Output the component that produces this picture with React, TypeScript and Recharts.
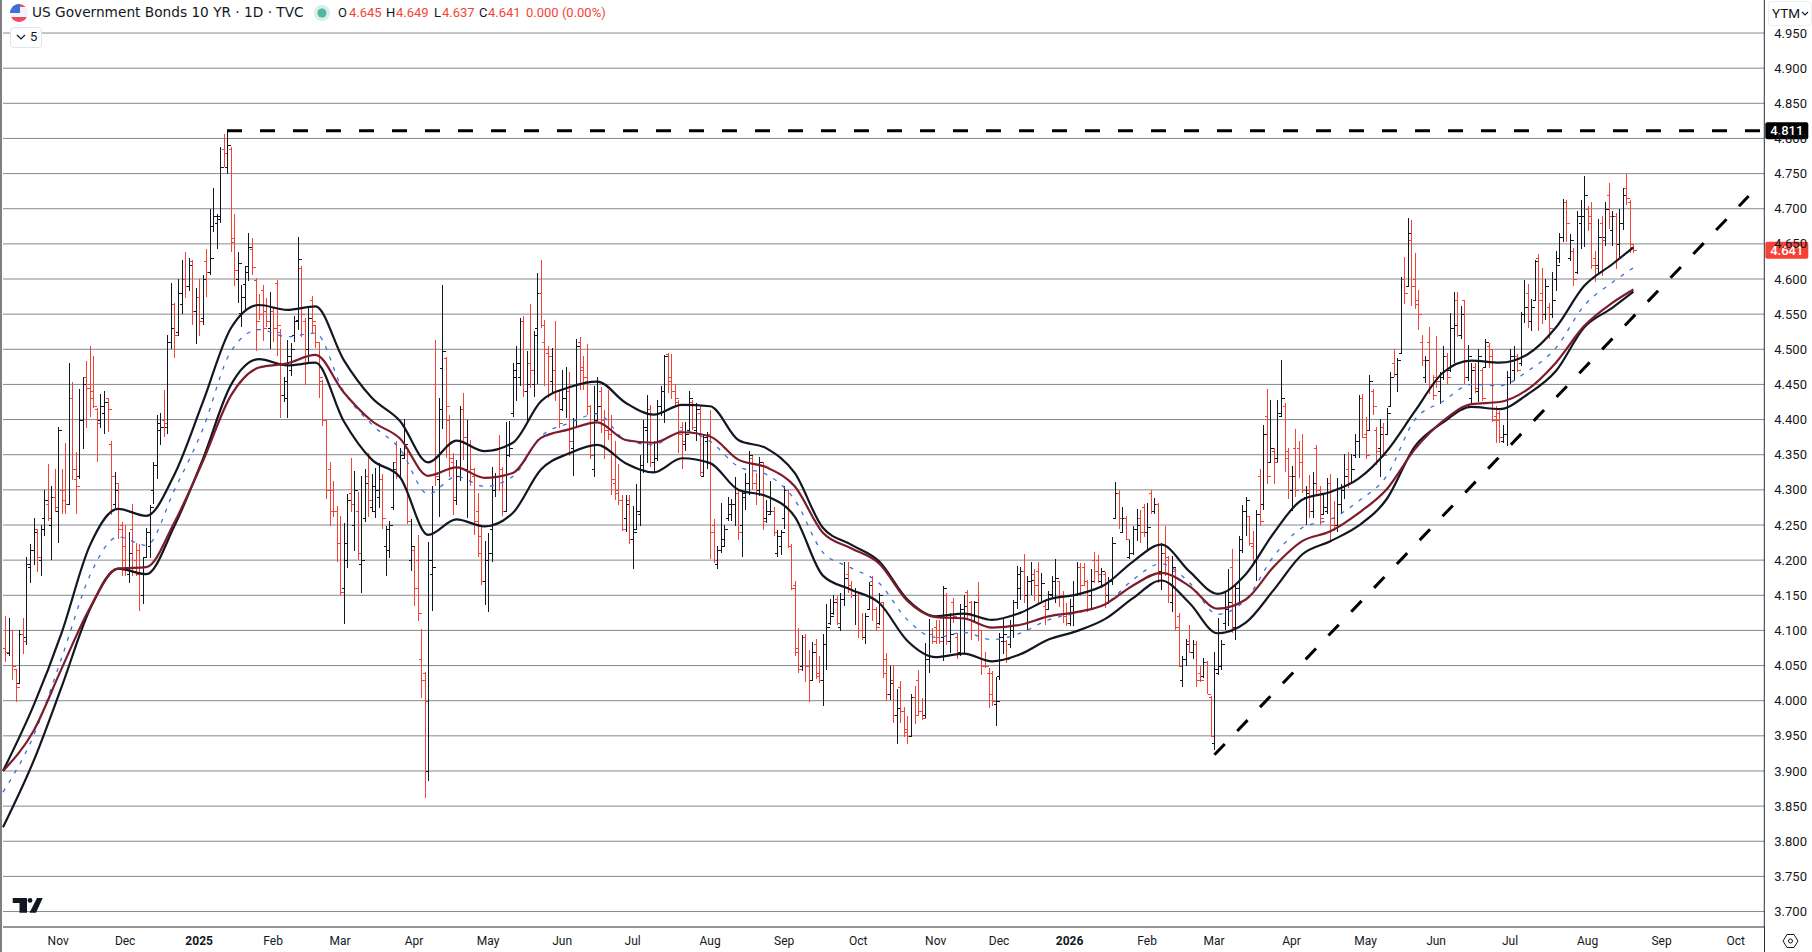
import { Bar, CartesianGrid, ComposedChart, Line, ReferenceLine, XAxis, YAxis } from 'recharts'

// daily OHLC, one bar per session, oldest first
const opens = [
  4.075,4.068,4.10,4.045,4.025,4.095,4.09,4.19,4.215,4.245,
  4.20,4.26,4.28,4.25,4.29,4.27,4.30,4.30,4.28,4.43,
  4.315,4.32,4.40,4.46,4.45,4.44,4.415,4.40,4.41,4.43,
  4.365,4.28,4.31,4.25,4.22,4.18,4.245,4.20,4.215,4.15,
  4.205,4.22,4.30,4.335,4.385,4.40,4.39,4.51,4.565,4.525,
  4.565,4.60,4.59,4.625,4.555,4.575,4.545,4.625,4.61,4.675,
  4.68,4.69,4.785,4.76,4.785,4.659,4.60,4.551,4.593,4.618,
  4.643,4.598,4.565,4.585,4.555,4.53,4.555,4.595,4.525,4.435,
  4.43,4.47,4.52,4.542,4.615,4.54,4.50,4.57,4.535,4.51,
  4.455,4.40,4.33,4.30,4.27,4.225,4.16,4.20,4.295,4.25,
  4.27,4.195,4.26,4.32,4.275,4.27,4.29,4.315,4.22,4.215,
  4.275,4.34,4.32,4.345,4.36,4.20,4.215,4.20,4.06,4.04,
  3.90,4.18,4.45,4.315,4.474,4.487,4.40,4.34,4.285,4.32,
  4.415,4.33,4.365,4.32,4.27,4.235,4.17,4.20,4.245,4.30,
  4.36,4.33,4.27,4.35,4.41,4.47,4.46,4.54,4.44,4.48,
  4.45,4.53,4.58,4.51,4.495,4.455,4.47,4.44,4.415,4.43,
  4.44,4.36,4.39,4.51,4.475,4.455,4.42,4.33,4.41,4.44,
  4.40,4.39,4.38,4.31,4.30,4.285,4.26,4.285,4.23,4.245,
  4.265,4.335,4.385,4.415,4.34,4.345,4.41,4.44,4.493,4.46,
  4.44,4.425,4.39,4.365,4.385,4.425,4.385,4.41,4.32,4.37,
  4.38,4.25,4.195,4.215,4.22,4.26,4.265,4.28,4.295,4.25,
  4.29,4.31,4.345,4.31,4.30,4.335,4.26,4.265,4.27,4.21,
  4.22,4.26,4.30,4.22,4.165,4.075,4.05,4.09,4.05,4.03,
  4.08,4.04,4.03,4.08,4.11,4.125,4.145,4.105,4.145,4.18,
  4.165,4.15,4.15,4.10,4.09,4.13,4.17,4.13,4.11,4.14,
  4.06,4.01,4.03,3.98,4.02,3.985,3.96,3.95,4.005,4.03,
  3.985,3.98,4.06,4.095,4.105,4.10,4.09,4.15,4.085,4.14,
  4.09,4.07,4.125,4.155,4.14,4.115,4.15,4.10,4.06,4.04,
  4.04,3.995,4.035,4.085,4.085,4.08,4.10,4.14,4.16,4.185,
  4.15,4.17,4.18,4.185,4.15,4.135,4.13,4.15,4.17,4.17,
  4.15,4.12,4.11,4.135,4.15,4.19,4.19,4.17,4.15,4.20,
  4.20,4.17,4.18,4.15,4.17,4.26,4.295,4.24,4.26,4.205,
  4.21,4.245,4.26,4.275,4.24,4.295,4.27,4.28,4.185,4.21,
  4.205,4.14,4.185,4.12,4.03,4.06,4.085,4.07,4.08,4.04,
  4.035,4.055,4.005,3.94,4.04,4.05,4.11,4.13,4.19,4.105,
  4.16,4.215,4.27,4.263,4.22,4.20,4.32,4.28,4.405,4.34,
  4.355,4.345,4.405,4.42,4.355,4.30,4.36,4.36,4.34,4.29,
  4.30,4.27,4.36,4.30,4.265,4.27,4.31,4.26,4.25,4.28,
  4.30,4.33,4.31,4.35,4.37,4.43,4.38,4.385,4.44,4.385,
  4.36,4.39,4.38,4.42,4.48,4.465,4.495,4.60,4.59,4.655,
  4.60,4.57,4.51,4.46,4.51,4.45,4.46,4.44,4.46,4.49,
  4.47,4.53,4.57,4.52,4.57,4.46,4.43,4.475,4.44,4.47,
  4.475,4.505,4.50,4.405,4.41,4.37,4.38,4.46,4.47,4.49,
  4.48,4.55,4.58,4.54,4.57,4.63,4.58,4.55,4.56,4.55,
  4.60,4.63,4.66,4.71,4.63,4.64,4.61,4.68,4.69,4.70,
  4.69,4.63,4.62,4.68,4.66,4.72,4.67,4.69,4.65,4.68,
  4.73,4.71,4.645,
]
const highs = [
  4.12,4.118,4.10,4.045,4.10,4.118,4.204,4.223,4.26,4.245,
  4.25,4.30,4.337,4.305,4.33,4.39,4.33,4.366,4.48,4.453,
  4.354,4.444,4.46,4.483,4.504,4.49,4.416,4.437,4.44,4.43,
  4.37,4.325,4.31,4.254,4.25,4.24,4.28,4.224,4.223,4.205,
  4.246,4.278,4.34,4.407,4.41,4.442,4.52,4.595,4.566,4.60,
  4.627,4.638,4.63,4.627,4.587,4.60,4.605,4.643,4.70,4.73,
  4.692,4.788,4.806,4.811,4.788,4.693,4.638,4.592,4.618,4.665,
  4.659,4.601,4.579,4.592,4.573,4.582,4.56,4.599,4.529,4.46,
  4.513,4.509,4.547,4.66,4.618,4.545,4.559,4.576,4.535,4.51,
  4.457,4.40,4.34,4.312,4.277,4.263,4.253,4.294,4.345,4.327,
  4.297,4.32,4.33,4.353,4.322,4.331,4.338,4.322,4.249,4.256,
  4.34,4.37,4.36,4.401,4.36,4.258,4.218,4.236,4.102,4.041,
  4.226,4.305,4.513,4.431,4.591,4.489,4.407,4.352,4.343,4.419,
  4.438,4.40,4.371,4.331,4.295,4.248,4.227,4.238,4.333,4.324,
  4.378,4.333,4.397,4.398,4.48,4.505,4.545,4.547,4.497,4.565,
  4.526,4.609,4.627,4.542,4.505,4.502,4.54,4.442,4.471,4.475,
  4.467,4.402,4.515,4.517,4.49,4.507,4.421,4.448,4.461,4.446,
  4.414,4.442,4.407,4.369,4.337,4.293,4.293,4.292,4.277,4.309,
  4.35,4.40,4.435,4.421,4.369,4.428,4.448,4.492,4.495,4.494,
  4.45,4.428,4.396,4.396,4.441,4.428,4.424,4.42,4.378,4.382,
  4.414,4.258,4.22,4.281,4.25,4.29,4.287,4.318,4.30,4.298,
  4.324,4.355,4.348,4.324,4.347,4.34,4.286,4.313,4.276,4.243,
  4.243,4.306,4.30,4.223,4.17,4.103,4.094,4.095,4.072,4.083,
  4.088,4.063,4.095,4.138,4.145,4.151,4.149,4.153,4.198,4.197,
  4.17,4.16,4.155,4.125,4.125,4.169,4.178,4.134,4.153,4.141,
  4.068,4.049,4.051,4.017,4.028,3.991,3.978,4.009,4.021,4.044,
  4.004,4.082,4.116,4.104,4.115,4.115,4.163,4.153,4.125,4.146,
  4.096,4.137,4.151,4.158,4.142,4.142,4.169,4.101,4.069,4.047,
  4.042,4.034,4.096,4.116,4.087,4.115,4.143,4.191,4.19,4.209,
  4.178,4.198,4.187,4.198,4.182,4.142,4.156,4.177,4.202,4.171,
  4.156,4.139,4.144,4.17,4.197,4.196,4.196,4.172,4.188,4.211,
  4.208,4.189,4.183,4.176,4.233,4.311,4.30,4.276,4.263,4.229,
  4.249,4.273,4.272,4.28,4.282,4.30,4.289,4.282,4.225,4.249,
  4.206,4.206,4.189,4.125,4.063,4.088,4.108,4.087,4.085,4.049,
  4.061,4.056,4.007,4.069,4.118,4.087,4.156,4.187,4.216,4.163,
  4.235,4.278,4.29,4.263,4.241,4.272,4.329,4.392,4.444,4.428,
  4.359,4.428,4.485,4.423,4.359,4.334,4.386,4.369,4.38,4.306,
  4.321,4.326,4.364,4.306,4.293,4.317,4.323,4.284,4.317,4.308,
  4.351,4.354,4.351,4.379,4.435,4.437,4.403,4.463,4.443,4.389,
  4.401,4.395,4.417,4.468,4.50,4.488,4.603,4.632,4.687,4.684,
  4.637,4.585,4.521,4.49,4.532,4.464,4.519,4.467,4.505,4.495,
  4.552,4.581,4.581,4.562,4.57,4.506,4.48,4.48,4.50,4.474,
  4.514,4.509,4.501,4.42,4.412,4.392,4.469,4.501,4.505,4.493,
  4.553,4.599,4.593,4.571,4.627,4.636,4.615,4.60,4.566,4.61,
  4.64,4.666,4.714,4.713,4.664,4.644,4.697,4.713,4.746,4.704,
  4.709,4.64,4.685,4.69,4.71,4.736,4.697,4.694,4.699,4.729,
  4.749,4.713,4.649,
]
const lows = [
  4.055,4.064,4.03,3.998,4.025,4.067,4.079,4.168,4.193,4.183,
  4.178,4.235,4.256,4.20,4.268,4.225,4.266,4.266,4.28,4.314,
  4.265,4.315,4.358,4.388,4.403,4.416,4.34,4.388,4.38,4.383,
  4.264,4.274,4.23,4.178,4.177,4.167,4.178,4.177,4.127,4.137,
  4.203,4.203,4.28,4.315,4.364,4.375,4.38,4.50,4.487,4.519,
  4.55,4.573,4.583,4.535,4.508,4.519,4.535,4.574,4.606,4.667,
  4.642,4.68,4.76,4.75,4.638,4.59,4.566,4.532,4.556,4.597,
  4.606,4.498,4.542,4.512,4.532,4.50,4.511,4.49,4.402,4.425,
  4.402,4.462,4.51,4.528,4.518,4.449,4.482,4.523,4.502,4.431,
  4.391,4.287,4.249,4.261,4.198,4.151,4.109,4.189,4.269,4.213,
  4.20,4.153,4.254,4.261,4.269,4.26,4.274,4.244,4.177,4.203,
  4.272,4.315,4.317,4.345,4.251,4.185,4.135,4.113,4.004,3.862,
  3.886,4.127,4.306,4.261,4.386,4.345,4.319,4.264,4.279,4.312,
  4.343,4.26,4.305,4.236,4.205,4.165,4.136,4.126,4.197,4.29,
  4.298,4.263,4.269,4.347,4.403,4.427,4.448,4.432,4.395,4.445,
  4.432,4.451,4.53,4.448,4.431,4.438,4.426,4.388,4.412,4.402,
  4.348,4.32,4.39,4.442,4.442,4.407,4.344,4.318,4.40,4.381,
  4.344,4.371,4.292,4.286,4.279,4.241,4.24,4.223,4.188,4.244,
  4.249,4.324,4.338,4.332,4.325,4.341,4.405,4.395,4.438,4.429,
  4.419,4.352,4.33,4.355,4.381,4.385,4.369,4.32,4.318,4.329,
  4.202,4.196,4.187,4.21,4.22,4.255,4.255,4.248,4.228,4.205,
  4.272,4.293,4.30,4.278,4.291,4.243,4.253,4.265,4.234,4.205,
  4.208,4.244,4.217,4.158,4.064,4.039,4.042,4.027,3.998,4.029,
  4.031,4.025,3.993,4.044,4.108,4.122,4.107,4.099,4.135,4.153,
  4.146,4.107,4.089,4.087,4.081,4.129,4.114,4.099,4.108,4.032,
  3.999,4.001,3.968,3.938,3.968,3.948,3.938,3.949,3.967,3.978,
  3.972,3.976,4.04,4.08,4.08,4.081,4.056,4.079,4.068,4.111,
  4.059,4.063,4.068,4.115,4.087,4.113,4.085,4.037,4.047,3.99,
  3.993,3.964,4.03,4.066,4.053,4.075,4.089,4.13,4.143,4.139,
  4.101,4.151,4.142,4.139,4.142,4.108,4.13,4.144,4.139,4.134,
  4.111,4.106,4.106,4.106,4.149,4.149,4.163,4.126,4.132,4.167,
  4.168,4.16,4.132,4.137,4.165,4.26,4.244,4.238,4.229,4.202,
  4.208,4.227,4.225,4.233,4.213,4.265,4.265,4.167,4.157,4.177,
  4.139,4.126,4.101,4.048,4.019,4.049,4.068,4.059,4.019,4.026,
  4.032,4.009,3.948,3.93,4.036,4.044,4.101,4.106,4.096,4.087,
  4.139,4.21,4.235,4.22,4.192,4.17,4.248,4.272,4.309,4.34,
  4.309,4.34,4.405,4.325,4.287,4.27,4.29,4.317,4.296,4.25,
  4.26,4.26,4.293,4.25,4.265,4.265,4.227,4.241,4.24,4.265,
  4.287,4.303,4.308,4.346,4.346,4.374,4.344,4.384,4.407,4.335,
  4.319,4.347,4.379,4.419,4.46,4.439,4.493,4.565,4.59,4.562,
  4.558,4.528,4.476,4.452,4.436,4.428,4.445,4.422,4.457,4.45,
  4.467,4.481,4.517,4.515,4.45,4.455,4.423,4.438,4.425,4.427,
  4.474,4.474,4.396,4.367,4.367,4.367,4.363,4.45,4.455,4.467,
  4.476,4.538,4.531,4.526,4.569,4.526,4.536,4.542,4.514,4.545,
  4.583,4.623,4.652,4.652,4.626,4.59,4.607,4.642,4.645,4.668,
  4.614,4.596,4.607,4.604,4.647,4.671,4.647,4.614,4.628,4.67,
  4.706,4.637,4.637,
]
const closes = [
  4.07,4.10,4.05,4.02,4.095,4.085,4.195,4.215,4.24,4.205,
  4.245,4.285,4.26,4.29,4.275,4.385,4.285,4.28,4.43,4.33,
  4.305,4.40,4.45,4.445,4.43,4.42,4.395,4.42,4.425,4.415,
  4.32,4.30,4.245,4.20,4.19,4.21,4.185,4.18,4.15,4.19,
  4.24,4.275,4.335,4.395,4.39,4.395,4.51,4.53,4.52,4.58,
  4.60,4.59,4.62,4.555,4.575,4.54,4.60,4.61,4.63,4.69,
  4.685,4.76,4.78,4.79,4.653,4.613,4.623,4.574,4.61,4.646,
  4.617,4.54,4.55,4.53,4.54,4.56,4.53,4.535,4.435,4.455,
  4.49,4.50,4.54,4.628,4.55,4.50,4.545,4.54,4.51,4.46,
  4.40,4.30,4.27,4.27,4.225,4.155,4.225,4.285,4.28,4.30,
  4.21,4.20,4.31,4.285,4.305,4.30,4.315,4.26,4.245,4.25,
  4.33,4.32,4.35,4.365,4.255,4.22,4.16,4.125,4.03,4.00,
  4.20,4.19,4.32,4.415,4.497,4.42,4.345,4.29,4.32,4.415,
  4.375,4.365,4.33,4.255,4.21,4.17,4.20,4.21,4.32,4.32,
  4.32,4.27,4.35,4.36,4.46,4.48,4.54,4.44,4.45,4.47,
  4.52,4.58,4.535,4.50,4.49,4.47,4.44,4.395,4.43,4.44,
  4.37,4.39,4.505,4.47,4.46,4.42,4.35,4.40,4.42,4.40,
  4.385,4.38,4.315,4.295,4.285,4.245,4.28,4.23,4.24,4.27,
  4.335,4.39,4.41,4.34,4.345,4.42,4.44,4.49,4.455,4.44,
  4.43,4.38,4.37,4.38,4.43,4.39,4.415,4.325,4.375,4.38,
  4.24,4.20,4.215,4.23,4.245,4.28,4.28,4.295,4.24,4.295,
  4.31,4.35,4.31,4.30,4.34,4.255,4.27,4.27,4.24,4.235,
  4.24,4.30,4.22,4.16,4.07,4.045,4.09,4.05,4.03,4.07,
  4.035,4.03,4.08,4.105,4.12,4.14,4.11,4.145,4.175,4.165,
  4.15,4.155,4.10,4.09,4.12,4.165,4.13,4.105,4.15,4.04,
  4.01,4.025,3.98,3.99,3.985,3.955,3.95,4.005,3.98,3.985,
  3.975,4.06,4.095,4.085,4.09,4.085,4.16,4.085,4.095,4.12,
  4.07,4.13,4.135,4.125,4.10,4.14,4.10,4.05,4.05,4.01,
  4.00,4.00,4.09,4.095,4.06,4.10,4.14,4.18,4.185,4.15,
  4.17,4.172,4.165,4.15,4.168,4.12,4.152,4.17,4.175,4.15,
  4.125,4.11,4.135,4.15,4.19,4.165,4.17,4.15,4.17,4.185,
  4.18,4.185,4.15,4.17,4.225,4.295,4.26,4.26,4.23,4.21,
  4.245,4.25,4.24,4.24,4.247,4.27,4.28,4.18,4.21,4.20,
  4.15,4.19,4.105,4.05,4.06,4.08,4.07,4.08,4.03,4.03,
  4.055,4.01,3.95,4.045,4.05,4.08,4.13,4.14,4.105,4.16,
  4.23,4.27,4.285,4.225,4.20,4.265,4.255,4.38,4.32,4.36,
  4.34,4.41,4.43,4.345,4.32,4.32,4.30,4.34,4.30,4.295,
  4.27,4.31,4.30,4.26,4.275,4.31,4.25,4.25,4.28,4.30,
  4.32,4.31,4.33,4.37,4.43,4.375,4.35,4.455,4.42,4.355,
  4.38,4.35,4.41,4.46,4.465,4.485,4.60,4.58,4.665,4.59,
  4.565,4.55,4.485,4.485,4.45,4.435,4.455,4.46,4.49,4.46,
  4.53,4.535,4.52,4.55,4.46,4.49,4.47,4.445,4.49,4.43,
  4.51,4.49,4.40,4.40,4.375,4.38,4.46,4.49,4.49,4.47,
  4.55,4.56,4.54,4.56,4.625,4.57,4.55,4.59,4.53,4.57,
  4.62,4.66,4.71,4.68,4.655,4.60,4.69,4.69,4.72,4.68,
  4.62,4.615,4.66,4.655,4.70,4.69,4.69,4.65,4.68,4.72,
  4.715,4.65,4.641,
]

// moving average and envelope, read every 8 sessions
const bandIdx = [
  -0.66,8,16,24,32,40,48,56,64,72,80,88,96,104,112,120,128,136,144,152,
  160,168,176,184,192,200,208,216,224,232,240,248,256,264,272,280,288,296,304,312,
  320,328,336,344,352,360,368,376,384,392,400,408,416,424,432,440,448,456,462,
]
const upperBand = [
  3.90,3.993,4.097,4.221,4.273,4.263,4.322,4.424,4.53,4.563,
  4.556,4.561,4.485,4.431,4.398,4.339,4.37,4.355,4.367,4.426,
  4.446,4.454,4.424,4.407,4.421,4.419,4.371,4.359,4.324,4.246,
  4.222,4.198,4.144,4.12,4.124,4.115,4.125,4.144,4.151,4.165,
  4.198,4.222,4.184,4.152,4.18,4.239,4.286,4.297,4.316,4.355,
  4.412,4.467,4.484,4.481,4.493,4.531,4.59,4.621,4.645,
]
const maroonAvg = [
  3.90,3.957,4.046,4.132,4.188,4.19,4.254,4.34,4.434,4.474,
  4.48,4.492,4.439,4.398,4.373,4.32,4.332,4.317,4.324,4.374,
  4.386,4.396,4.371,4.367,4.382,4.376,4.343,4.332,4.305,4.239,
  4.217,4.195,4.142,4.119,4.117,4.104,4.108,4.12,4.126,4.137,
  4.164,4.182,4.163,4.131,4.144,4.191,4.227,4.241,4.267,4.301,
  4.358,4.398,4.422,4.425,4.443,4.481,4.533,4.566,4.585,
]
const blueAvg = [
  3.87,3.95,4.061,4.178,4.233,4.221,4.30,4.386,4.497,4.528,
  4.518,4.523,4.44,4.393,4.358,4.294,4.319,4.305,4.319,4.376,
  4.395,4.408,4.371,4.364,4.384,4.369,4.333,4.322,4.286,4.211,
  4.189,4.167,4.115,4.09,4.097,4.087,4.096,4.115,4.125,4.137,
  4.172,4.195,4.168,4.123,4.144,4.206,4.246,4.258,4.284,4.32,
  4.40,4.426,4.45,4.448,4.469,4.502,4.562,4.595,4.616,
]
const lowerBand = [
  3.82,3.914,4.02,4.13,4.188,4.18,4.249,4.343,4.449,4.486,
  4.477,4.481,4.398,4.343,4.318,4.236,4.258,4.248,4.267,4.329,
  4.352,4.364,4.338,4.325,4.345,4.338,4.30,4.291,4.262,4.178,
  4.158,4.139,4.085,4.062,4.067,4.056,4.066,4.087,4.099,4.116,
  4.146,4.171,4.139,4.096,4.111,4.158,4.208,4.227,4.249,4.287,
  4.362,4.396,4.418,4.415,4.436,4.469,4.531,4.559,4.582,
]

const yTicks = [
  3.7,3.75,3.8,3.85,3.9,3.95,4,4.05,4.1,4.15,4.2,4.25,4.3,4.35,4.4,4.45,4.5,4.55,4.6,4.65,4.7,4.75,4.8,4.85,4.9,4.95,
]
const monthTicks = [15,34,55,76,95,116,137,158,178,200,221,242,264,282,302,324,343,365,386,406,427,449,470,491]
const monthLabels = ['Nov','Dec','2025','Feb','Mar','Apr','May','Jun','Jul','Aug','Sep','Oct','Nov','Dec','2026','Feb','Mar','Apr','May','Jun','Jul','Aug','Sep','Oct']

const resistance = [{ x: 62.9, level: 4.811 }, { x: 499.14, level: 4.811 }]
const trendline = [{ x: 343.1, level: 3.923 }, { x: 494.7, level: 4.718 }]

const rows = opens.map((open, i) => ({
  x: i,
  open,
  high: highs[i],
  low: lows[i],
  close: closes[i],
  range: [lows[i], highs[i]],
}))
const bandRows = bandIdx.map((x, i) => ({
  x,
  upper: upperBand[i],
  maroon: maroonAvg[i],
  blue: blueAvg[i],
  lower: lowerBand[i],
}))

const BLACK = '#131722'
const RED = '#f44336'
const FONT = 'Roboto, sans-serif'

function OhlcBar(props: any) {
  const { x, y, width, height, payload } = props
  const top = Math.min(y, y + height)
  const span = Math.abs(height)
  const perUnit = span / (payload.high - payload.low)
  const cx = Math.round(x + width / 2) + 0.5
  const openY = Math.round(top + (payload.high - payload.open) * perUnit) + 0.5
  const closeY = Math.round(top + (payload.high - payload.close) * perUnit) + 0.5
  const color = payload.close >= payload.open ? BLACK : RED
  return (
    <g stroke={color} strokeWidth={1} shapeRendering="crispEdges">
      <line x1={cx} x2={cx} y1={top} y2={top + span} />
      <line x1={cx - 3} x2={cx} y1={openY} y2={openY} />
      <line x1={cx} x2={cx + 3} y1={closeY} y2={closeY} />
    </g>
  )
}

function MonthTick(props: any) {
  const { x, y, payload } = props
  const label = monthLabels[monthTicks.indexOf(payload.value)]
  const isYear = label.startsWith('20')
  return (
    <text x={x} y={y} dy={10} textAnchor="middle" fontFamily={FONT} fontSize={12} fontWeight={isYear ? 700 : 400} fill={BLACK}>
      {label}
    </text>
  )
}

function PriceTag(props: any) {
  const { viewBox, fill, text } = props
  const left = viewBox.x + viewBox.width + 1
  const cy = viewBox.y
  return (
    <g>
      <rect x={left} y={cy - 8.5} width={43} height={17} rx={2} fill={fill} />
      <text x={left + 21.5} y={cy + 4.5} textAnchor="middle" fontFamily={FONT} fontSize={13} fontWeight={500} fill="#fff">
        {text}
      </text>
    </g>
  )
}

function Label({ left, color, children }: { left: number; color: string; children: any }) {
  return <span style={{ position: 'absolute', left, top: 5, color, whiteSpace: 'nowrap' }}>{children}</span>
}

export default function App() {
  return (
    <div style={{ position: 'absolute', left: 0, top: 0, width: 1812, height: 952, background: '#fff', overflow: 'hidden' }}>
      <ComposedChart
        width={1812}
        height={952}
        data={rows}
        margin={{ top: 0, right: 0, bottom: 0, left: 3 }}
        barCategoryGap={0}
      >
        <CartesianGrid vertical={false} stroke="#87888c" horizontalValues={yTicks} />
        <XAxis
          dataKey="x"
          type="number"
          domain={[-0.66, 499.14]}
          ticks={monthTicks}
          interval={0}
          height={25}
          tickLine={false}
          axisLine={{ stroke: '#2a2e39' }}
          tick={<MonthTick />}
        />
        <YAxis
          orientation="right"
          type="number"
          domain={[3.678, 4.997]}
          ticks={yTicks}
          interval={0}
          width={47.7}
          tickLine={false}
          tickMargin={4}
          axisLine={{ stroke: '#2a2e39' }}
          tick={{ fontSize: 13, fontFamily: FONT, fill: BLACK, textAnchor: 'start' }}
          tickFormatter={(v: number) => v.toFixed(3)}
        />
        <Bar dataKey="range" barSize={3} shape={<OhlcBar />} isAnimationActive={false} />
        <Line data={bandRows} dataKey="blue" type="monotone" stroke="#3b6fe0" strokeWidth={1.3} strokeDasharray="4 7" dot={false} isAnimationActive={false} />
        <Line data={bandRows} dataKey="upper" type="monotone" stroke={BLACK} strokeWidth={2.2} dot={false} isAnimationActive={false} />
        <Line data={bandRows} dataKey="lower" type="monotone" stroke={BLACK} strokeWidth={2.2} dot={false} isAnimationActive={false} />
        <Line data={bandRows} dataKey="maroon" type="monotone" stroke="#7c1d2b" strokeWidth={2.2} dot={false} isAnimationActive={false} />
        <Line data={resistance} dataKey="level" type="linear" stroke="#000" strokeWidth={3} strokeDasharray="15 18" dot={false} isAnimationActive={false} />
        <Line data={trendline} dataKey="level" type="linear" stroke="#000" strokeWidth={3} strokeDasharray="15 18" dot={false} isAnimationActive={false} />
        <ReferenceLine y={4.811} stroke="none" label={<PriceTag fill="#000" text="4.811" />} />
        <ReferenceLine y={4.641} stroke="none" label={<PriceTag fill={RED} text="4.641" />} />
      </ComposedChart>

      {/* TradingView chrome around the plot */}
      <div style={{ position: 'absolute', left: 0, top: 0, width: 2, height: 952, background: '#7f7f7f' }} />
      <div style={{ position: 'absolute', left: 1764, top: 927, width: 1, height: 25, background: '#2a2e39' }} />

      <div style={{ position: 'absolute', left: 0, top: 0, height: 24, fontFamily: FONT, fontSize: 13 }}>
        <svg style={{ position: 'absolute', left: 10, top: 4 }} width={18} height={18} viewBox="0 0 18 18">
          <defs>
            <clipPath id="flag"><circle cx="9" cy="9" r="9" /></clipPath>
          </defs>
          <g clipPath="url(#flag)">
            <rect width="18" height="18" fill="#f0f3fa" />
            <rect y="0" width="18" height="3" fill="#eb4d5c" />
            <rect y="13" width="18" height="5" fill="#eb4d5c" />
            <rect width="10" height="9" fill="#3a70d8" />
          </g>
        </svg>
        <span style={{ position: 'absolute', left: 32, top: 4, color: BLACK, whiteSpace: 'nowrap', fontFamily: '"DejaVu Sans", sans-serif', fontSize: 13.7 }}>
          US Government Bonds 10 YR · 1D · TVC
        </span>
        <svg style={{ position: 'absolute', left: 313, top: 4 }} width={18} height={18} viewBox="0 0 18 18">
          <circle cx="9" cy="9" r="8" fill="#d8efe9" />
          <circle cx="9" cy="9" r="4.5" fill="#4cb8a0" />
        </svg>
        <Label left={338} color={BLACK}>O</Label>
        <Label left={349} color={RED}>4.645</Label>
        <Label left={386} color={BLACK}>H</Label>
        <Label left={396} color={RED}>4.649</Label>
        <Label left={434} color={BLACK}>L</Label>
        <Label left={442} color={RED}>4.637</Label>
        <Label left={479} color={BLACK}>C</Label>
        <Label left={488} color={RED}>4.641</Label>
        <Label left={526} color={RED}>0.000 (0.00%)</Label>
      </div>

      <div style={{ position: 'absolute', left: 10, top: 27, width: 30, height: 19, border: '1px solid #e0e3eb', borderRadius: 4, background: '#fff', fontFamily: FONT, fontSize: 13, color: BLACK }}>
        <svg style={{ position: 'absolute', left: 5, top: 5 }} width={10} height={8} viewBox="0 0 10 8">
          <path d="M1 2 L5 6 L9 2" fill="none" stroke={BLACK} strokeWidth={1.2} />
        </svg>
        <span style={{ position: 'absolute', left: 19, top: 1 }}>5</span>
      </div>

      <div style={{ position: 'absolute', left: 1768, top: 1, width: 42, height: 23, border: '1px solid #eceef2', borderRadius: 4, background: '#fff', fontFamily: FONT, fontSize: 13.5, color: BLACK }}>
        <span style={{ position: 'absolute', left: 3, top: 3 }}>YTM</span>
        <svg style={{ position: 'absolute', left: 32, top: 9 }} width={8} height={6} viewBox="0 0 8 6">
          <path d="M1 1 L4 4 L7 1" fill="none" stroke={BLACK} strokeWidth={1.1} />
        </svg>
      </div>

      <svg style={{ position: 'absolute', left: 12, top: 897 }} width={32} height={17} viewBox="0 0 32 17">
        <path d="M0.7 1 H15 V15.7 H7.5 V6 H0.7 Z" fill={BLACK} />
        <circle cx="18" cy="3.4" r="2.4" fill={BLACK} />
        <path d="M25 1 H30.7 L24 15.7 H17.5 Z" fill={BLACK} />
      </svg>

      <svg style={{ position: 'absolute', left: 1782, top: 933 }} width={17} height={16} viewBox="0 0 17 16">
        <path d="M1 8 L5 1.5 H12 L16 8 L12 14.5 H5 Z" fill="none" stroke={BLACK} strokeWidth={1} />
        <circle cx="8.5" cy="8" r="2" fill="none" stroke={BLACK} strokeWidth={1} />
      </svg>
    </div>
  )
}
